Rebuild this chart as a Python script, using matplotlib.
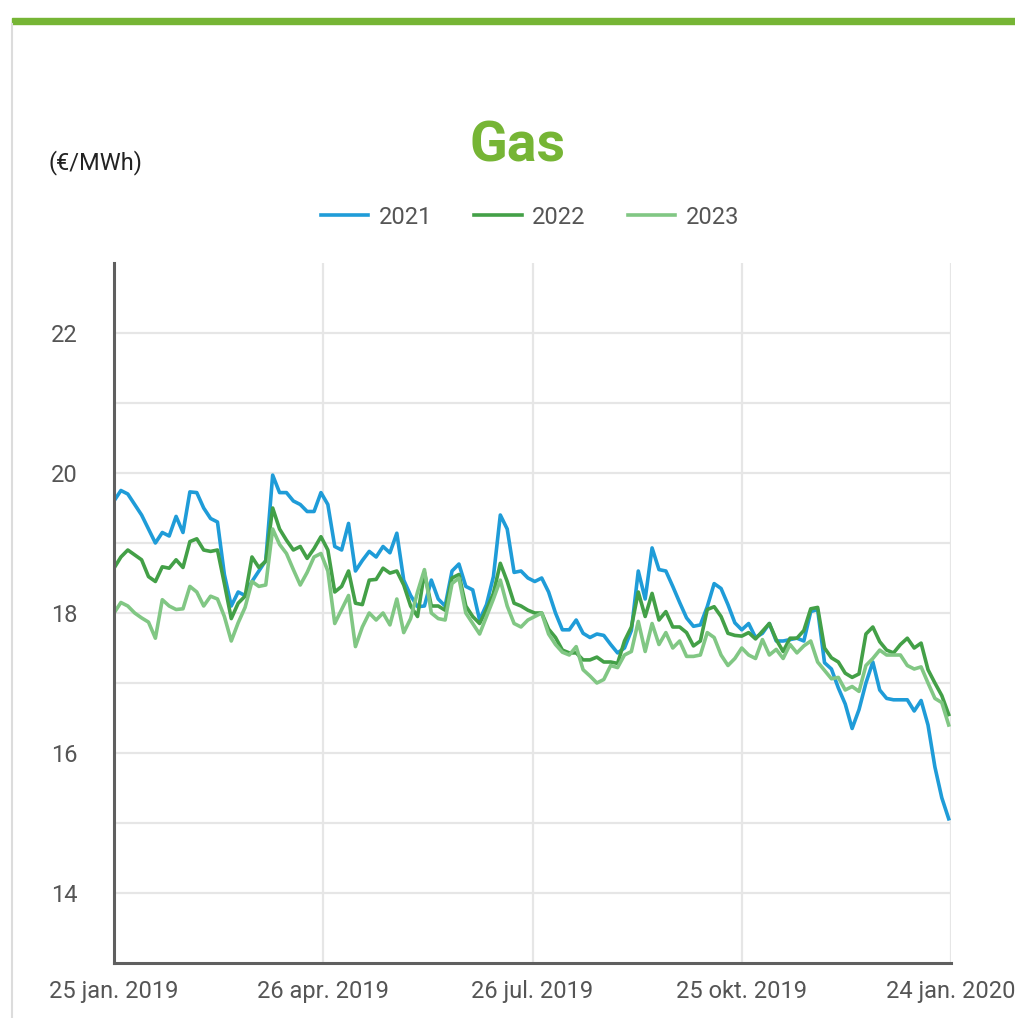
import numpy as np
import pandas as pd
import matplotlib
matplotlib.use("Agg")
import matplotlib.pyplot as plt
from matplotlib.lines import Line2D
from matplotlib.patches import Rectangle

plt.rcParams['font.family'] = ['Roboto', 'DejaVu Sans']

# data, one value every 3 days
dates = pd.date_range("2019-01-25", periods=122, freq="3D")

gas_2021 = [
    19.6, 19.75, 19.7, 19.55, 19.4, 19.2, 19.0, 19.15, 19.1, 19.38,
    19.15, 19.73, 19.72, 19.5, 19.35, 19.3, 18.55, 18.1, 18.3, 18.25,
    18.45, 18.6, 18.75, 19.97, 19.72, 19.72, 19.6, 19.55, 19.45, 19.45,
    19.72, 19.55, 18.95, 18.9, 19.28, 18.6, 18.75, 18.88, 18.8, 18.95,
    18.86, 19.14, 18.47, 18.25, 18.09, 18.1, 18.47, 18.2, 18.1, 18.6,
    18.7, 18.38, 18.33, 17.9, 18.12, 18.52, 19.4, 19.2, 18.58, 18.6,
    18.5, 18.45, 18.5, 18.3, 18.0, 17.76, 17.76, 17.9, 17.71, 17.65,
    17.7, 17.68, 17.55, 17.43, 17.5, 17.75, 18.6, 18.2, 18.93, 18.62,
    18.6, 18.38, 18.15, 17.93, 17.81, 17.83, 18.09, 18.42, 18.35, 18.12,
    17.86, 17.76, 17.85, 17.65, 17.71, 17.85, 17.6, 17.6, 17.62, 17.64,
    17.6, 18.02, 18.05, 17.29, 17.2, 16.93, 16.7, 16.35, 16.62, 17.0,
    17.3, 16.9, 16.78, 16.76, 16.76, 16.76, 16.6, 16.75, 16.4, 15.8,
    15.36, 15.06,
]

gas_2022 = [
    18.64, 18.8, 18.9, 18.83, 18.76, 18.52, 18.45, 18.66, 18.64, 18.76,
    18.65, 19.02, 19.06, 18.9, 18.88, 18.9, 18.42, 17.92, 18.14, 18.24,
    18.8, 18.65, 18.74, 19.5, 19.2, 19.04, 18.9, 18.95, 18.78, 18.92,
    19.09, 18.9, 18.3, 18.38, 18.6, 18.14, 18.12, 18.47, 18.48, 18.64,
    18.57, 18.6, 18.4, 18.1, 17.95, 18.58, 18.1, 18.1, 18.04, 18.5,
    18.55, 18.1, 17.95, 17.85, 18.05, 18.28, 18.71, 18.45, 18.14, 18.1,
    18.04, 18.0, 18.0, 17.77, 17.65, 17.47, 17.43, 17.43, 17.33, 17.33,
    17.37, 17.3, 17.3, 17.28, 17.6, 17.8, 18.3, 17.95, 18.28, 17.9,
    18.02, 17.8, 17.8, 17.72, 17.53, 17.6, 18.05, 18.09, 17.95, 17.71,
    17.68, 17.67, 17.72, 17.63, 17.74, 17.85, 17.62, 17.45, 17.64, 17.64,
    17.75, 18.06, 18.08, 17.5, 17.36, 17.3, 17.14, 17.08, 17.13, 17.7,
    17.8, 17.59, 17.47, 17.43, 17.55, 17.64, 17.5, 17.57, 17.19, 17.0,
    16.82, 16.55,
]

gas_2023 = [
    18.0, 18.15, 18.1, 18.0, 17.93, 17.87, 17.64, 18.19, 18.1, 18.05,
    18.06, 18.38, 18.3, 18.1, 18.24, 18.2, 17.95, 17.6, 17.86, 18.08,
    18.45, 18.38, 18.4, 19.2, 18.98, 18.85, 18.62, 18.4, 18.58, 18.8,
    18.85, 18.6, 17.85, 18.05, 18.25, 17.52, 17.8, 18.0, 17.9, 18.0,
    17.83, 18.2, 17.72, 17.92, 18.3, 18.62, 18.0, 17.92, 17.9, 18.42,
    18.5, 18.0, 17.85, 17.7, 17.95, 18.2, 18.47, 18.1, 17.85, 17.8,
    17.9, 17.95, 18.0, 17.7, 17.55, 17.44, 17.4, 17.52, 17.19, 17.1,
    17.0, 17.05, 17.25, 17.22, 17.4, 17.45, 17.88, 17.45, 17.85, 17.55,
    17.72, 17.5, 17.6, 17.38, 17.38, 17.4, 17.72, 17.65, 17.4, 17.25,
    17.35, 17.5, 17.4, 17.35, 17.62, 17.4, 17.48, 17.35, 17.55, 17.43,
    17.53, 17.6, 17.3, 17.18, 17.06, 17.08, 16.9, 16.95, 16.88, 17.25,
    17.35, 17.47, 17.4, 17.4, 17.4, 17.25, 17.2, 17.23, 17.0, 16.78,
    16.72, 16.4,
]

series_names = ["2021", "2022", "2023"]
series_colors = ["#1f9cd8", "#43a047", "#81c784"]

tick_dates = pd.to_datetime(["2019-01-25", "2019-04-26", "2019-07-26",
                             "2019-10-25", "2020-01-24"])
tick_labels = ["25 jan. 2019", "26 apr. 2019", "26 jul. 2019",
               "25 okt. 2019", "24 jan. 2020"]

fig = plt.figure(figsize=(10.15, 10.18), dpi=100)

# green bar on top and grey border on the left
fig.patches.append(Rectangle((12 / 1015, 1 - 24 / 1018), 1, 6 / 1018,
                             transform=fig.transFigure, color="#76b535", zorder=0))
fig.lines.append(Line2D([12 / 1015, 12 / 1015], [0, 1 - 24 / 1018],
                        transform=fig.transFigure, color="#dcdcdc", lw=1.5))

ax = fig.add_axes([114 / 1015, 1 - 963 / 1018, 837 / 1015, 700 / 1018])

for vals, name, col in zip([gas_2021, gas_2022, gas_2023], series_names, series_colors):
    ax.plot(dates, vals, color=col, lw=2.6, label=name)

ax.set_xlim(tick_dates[0], tick_dates[-1])
ax.set_ylim(13, 23)
ax.set_xticks(tick_dates)
ax.set_xticklabels(tick_labels)
ax.set_yticks([14, 16, 18, 20, 22])
ax.set_yticks([15, 17, 19, 21], minor=True)
ax.tick_params(axis="both", which="both", length=0, labelsize=17, labelcolor="#555555")
ax.tick_params(axis="y", pad=26)
ax.tick_params(axis="x", pad=12)
ax.grid(True, which="both", color="#e6e6e6", lw=1.6)
ax.set_axisbelow(True)
for side in ["top", "right"]:
    ax.spines[side].set_visible(False)
for side in ["left", "bottom"]:
    ax.spines[side].set_color("#5f5f5f")
    ax.spines[side].set_linewidth(2.2)

fig.text(517 / 1015, 1 - 146 / 1018, "Gas", ha="center", va="center",
         fontsize=40, fontweight="bold", color="#76b535")
fig.text(48 / 1015, 1 - 163 / 1018, "(€/MWh)", ha="left", va="center",
         fontsize=17, color="#222222")

fig.legend(loc="center", bbox_to_anchor=(530 / 1015, 1 - 217 / 1018), ncol=3,
           frameon=False, fontsize=17, labelcolor="#555555", handlelength=2.0,
           handletextpad=0.45, columnspacing=1.8)

fig.savefig("out.png", dpi=100)
